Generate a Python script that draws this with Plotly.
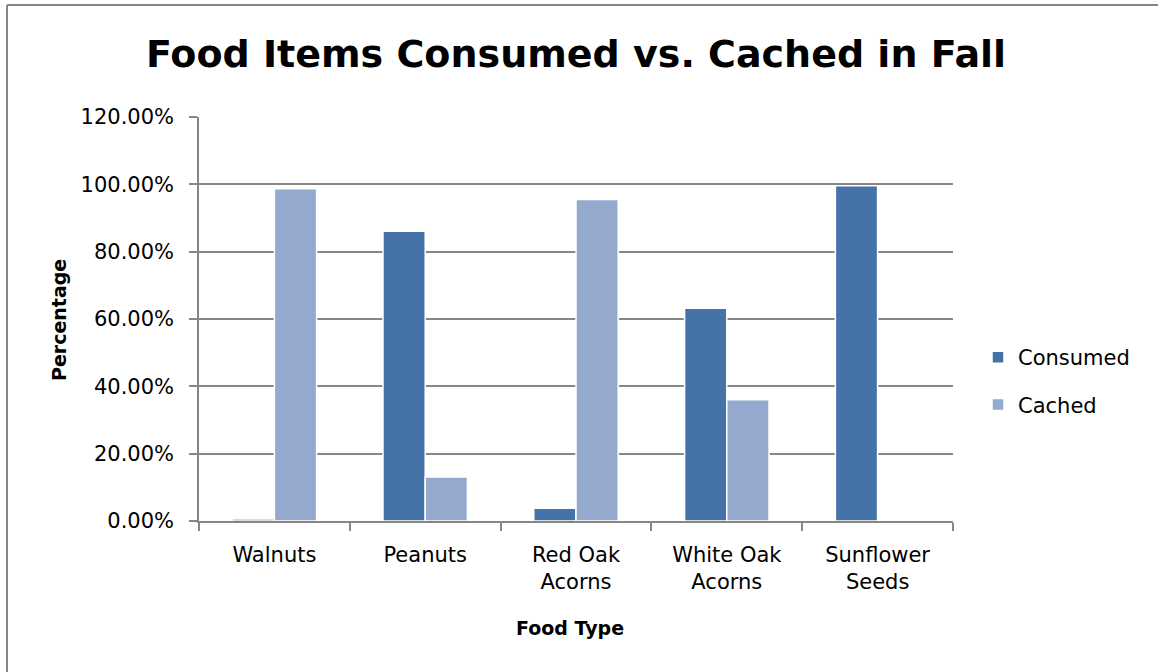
import plotly.graph_objects as go

categories = ["Walnuts", "Peanuts", "Red Oak<br>Acorns", "White Oak<br>Acorns", "Sunflower<br>Seeds"]
consumed = [0.006, 0.861, 0.038, 0.632, 0.996]
cached = [0.987, 0.131, 0.955, 0.360, 0.0]
ytick_vals = [0, 0.2, 0.4, 0.6, 0.8, 1.0, 1.2]

W, H = 1158, 672
L, R, T, B = 199, 953, 117, 521
FONT = "DejaVu Sans"
GRID = "#868686"


def px(x):
    return (x - L) / (R - L)


def py(y):
    return (B - y) / (B - T)


fig = go.Figure()
fig.add_trace(go.Bar(
    x=categories, y=consumed, name="Consumed", legendgroup="a",
    marker=dict(color="#4673A7", line=dict(color="white", width=1.5)),
))
fig.add_trace(go.Bar(
    x=categories, y=cached, name="Cached", legendgroup="b",
    marker=dict(color="#95A9CF", line=dict(color="white", width=1.5)),
))

fig.update_layout(
    width=W, height=H,
    margin=dict(l=L, r=W - R, t=T, b=H - B),
    paper_bgcolor="white", plot_bgcolor="white",
    font=dict(family=FONT, size=21, color="black"),
    barmode="group", bargap=0.44, bargroupgap=0,
    title=dict(text="<b>Food Items Consumed vs. Cached in Fall</b>",
               font=dict(family=FONT, size=38, color="black"),
               x=579 / W, xanchor="center", xref="paper",
               y=1 - 54 / H, yanchor="middle", yref="container"),
    legend=dict(x=px(978), xanchor="left", y=py(381), yanchor="middle",
                traceorder="grouped", tracegroupgap=17,
                font=dict(family=FONT, size=21), bgcolor="rgba(0,0,0,0)"),
    showlegend=True,
)
fig.update_xaxes(
    showgrid=False, showline=True, linecolor=GRID, linewidth=1.5,
    ticks="outside", tickson="boundaries", ticklen=8, tickcolor=GRID, tickwidth=1.5,
    tickfont=dict(family=FONT, size=21), ticklabelstandoff=14,
)
fig.update_yaxes(
    range=[0, 1.2], tickvals=ytick_vals, tickformat=".2%",
    showgrid=True, gridcolor=GRID, gridwidth=1.5,
    showline=True, linecolor=GRID, linewidth=1.5,
    zeroline=False,
    ticks="outside", ticklen=8, tickcolor=GRID, tickwidth=1.5,
    tickfont=dict(family=FONT, size=21), ticklabelstandoff=11,
)

fig.add_annotation(text="<b>Percentage</b>", x=px(59), y=py(320), xref="paper", yref="paper",
                   textangle=-90, showarrow=False, font=dict(family=FONT, size=19),
                   xanchor="center", yanchor="middle")
fig.add_annotation(text="<b>Food Type</b>", x=px(570), y=py(628), xref="paper", yref="paper",
                   showarrow=False, font=dict(family=FONT, size=19),
                   xanchor="center", yanchor="middle")

# chart-area border (left and top edges visible in the crop)
fig.add_shape(type="line", xref="paper", yref="paper", x0=px(7), x1=px(7), y0=py(5), y1=py(H + 5),
              line=dict(color=GRID, width=2))
fig.add_shape(type="line", xref="paper", yref="paper", x0=px(7), x1=px(W + 5), y0=py(5), y1=py(5),
              line=dict(color=GRID, width=2))

fig.write_html("out.html")
